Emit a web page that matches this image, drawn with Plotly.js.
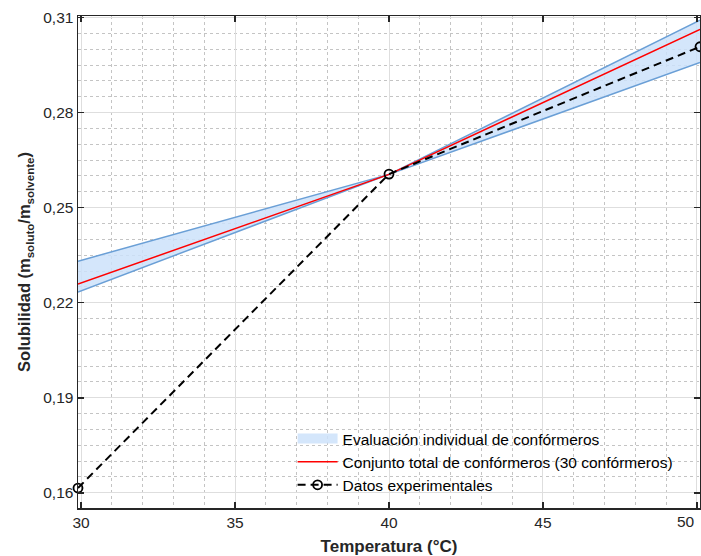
<!DOCTYPE html>
<html>
<head>
<meta charset="utf-8">
<script src="https://cdn.plot.ly/plotly-3.0.1.min.js"></script>
<style>
  html, body { margin: 0; padding: 0; background: #ffffff; }
  #chart { width: 701px; height: 556px; }
</style>
</head>
<body>
<div id="chart"></div>
<script>
// Temperatures (°C)
const temperatura = [29.9, 40.0, 50.1];
// Band limits from the individual conformer evaluations
const bandaSuperior = [0.2331, 0.2605, 0.3092];
const bandaInferior = [0.2234, 0.2605, 0.2958];
// Whole-ensemble prediction (30 conformers)
const conjuntoTotal = [0.2259, 0.2605, 0.3063];
// Experimental solubilities
const experimental = [0.1615, 0.2606, 0.3008];

// Tick labels (decimal comma on y)
const yTicks = [0.16, 0.19, 0.22, 0.25, 0.28, 0.31];
const yTickText = ['0,16', '0,19', '0,22', '0,25', '0,28', '0,31'];
const xTicks = [30, 35, 40, 45, 50];
const xTickText = ['30', '35', '40', '45', '50'];

const bandFill = 'rgba(205,226,250,0.85)';
const bandEdge = '#6a9fd6';
const family = 'Liberation Sans, Arial, sans-serif';

// closed polygon for the band area
const polyX = temperatura.concat(temperatura.slice().reverse());
const polyY = bandaSuperior.concat(bandaInferior.slice().reverse());

const traces = [
  {
    x: polyX, y: polyY, type: 'scatter', mode: 'lines',
    fill: 'toself', fillcolor: bandFill,
    line: { width: 0, color: bandFill },
    showlegend: false, hoverinfo: 'skip'
  },
  {
    x: temperatura, y: bandaSuperior, type: 'scatter', mode: 'lines',
    line: { color: bandEdge, width: 1.5 }, showlegend: false
  },
  {
    x: temperatura, y: bandaInferior, type: 'scatter', mode: 'lines',
    line: { color: bandEdge, width: 1.5 }, showlegend: false
  },
  // legend swatch for the band (wide light-blue patch)
  {
    x: [null], y: [null], type: 'scatter', mode: 'lines',
    line: { color: bandFill, width: 15 },
    name: 'Evaluación individual de confórmeros'
  },
  {
    x: temperatura, y: conjuntoTotal, type: 'scatter', mode: 'lines',
    line: { color: '#ff0000', width: 1.5 },
    name: 'Conjunto total de confórmeros (30 confórmeros)'
  },
  {
    x: temperatura, y: experimental, type: 'scatter', mode: 'lines+markers',
    line: { color: '#000000', width: 2, dash: '8px,5px' },
    marker: { symbol: 'circle-open', size: 9, color: '#000000', line: { width: 1.8, color: '#000000' } },
    name: 'Datos experimentales', cliponaxis: false
  }
];

const axisFont = { family: family, size: 15.5, color: '#262626' };
const titleFont = { family: family, size: 17, color: '#262626', weight: 'bold' };

// the last x label sits at the right edge; it is right-aligned to its tick
const lastX = xTicks.length - 1;

const layout = {
  width: 701, height: 556,
  margin: { l: 78, r: 1, t: 16, b: 48 },
  paper_bgcolor: '#ffffff', plot_bgcolor: '#ffffff',
  showlegend: true,
  legend: {
    x: 0.345, y: 0.175, xanchor: 'left', yanchor: 'top',
    bgcolor: 'rgba(0,0,0,0)', borderwidth: 0,
    font: { family: family, size: 15.5, color: '#000000' },
    itemwidth: 40, tracegroupgap: 0
  },
  xaxis: {
    range: [29.9, 50.1],
    tickmode: 'array', tickvals: xTicks,
    ticktext: xTickText.map((t, i) => (i === lastX ? '' : t)),
    ticks: 'inside', ticklen: 6, tickwidth: 1.5, tickcolor: '#262626',
    showline: true, linecolor: '#262626', linewidth: 1.5, mirror: 'ticks',
    showgrid: true, gridcolor: '#dedede', gridwidth: 1,
    zeroline: false,
    tickfont: axisFont,
    minor: { tick0: 30, dtick: 1, showgrid: true, gridcolor: '#c4c4c4', griddash: 'dot', gridwidth: 1, ticks: '' },
    title: { text: 'Temperatura (°C)', font: titleFont, standoff: 12 }
  },
  yaxis: {
    range: [0.1552, 0.3105],
    tickmode: 'array', tickvals: yTicks, ticktext: yTickText,
    ticks: 'inside', ticklen: 6, tickwidth: 1.5, tickcolor: '#262626',
    showline: true, linecolor: '#262626', linewidth: 1.5, mirror: 'ticks',
    showgrid: true, gridcolor: '#dedede', gridwidth: 1,
    zeroline: false,
    tickfont: axisFont,
    minor: { tick0: 0.16, dtick: 0.005, showgrid: true, gridcolor: '#c4c4c4', griddash: 'dot', gridwidth: 1, ticks: '' },
    title: { text: 'Solubilidad (m<sub>soluto</sub>/m<sub>solvente</sub>)', font: { family: family, size: 16.5, color: '#262626', weight: 'bold' }, standoff: 8 }
  },
  annotations: [{
    x: xTicks[lastX], y: 0, xref: 'x', yref: 'paper',
    text: xTickText[lastX], showarrow: false,
    xanchor: 'right', yanchor: 'top', yshift: -3,
    font: axisFont
  }]
};

Plotly.newPlot('chart', traces, layout, { staticPlot: true, displayModeBar: false });
</script>
</body>
</html>
